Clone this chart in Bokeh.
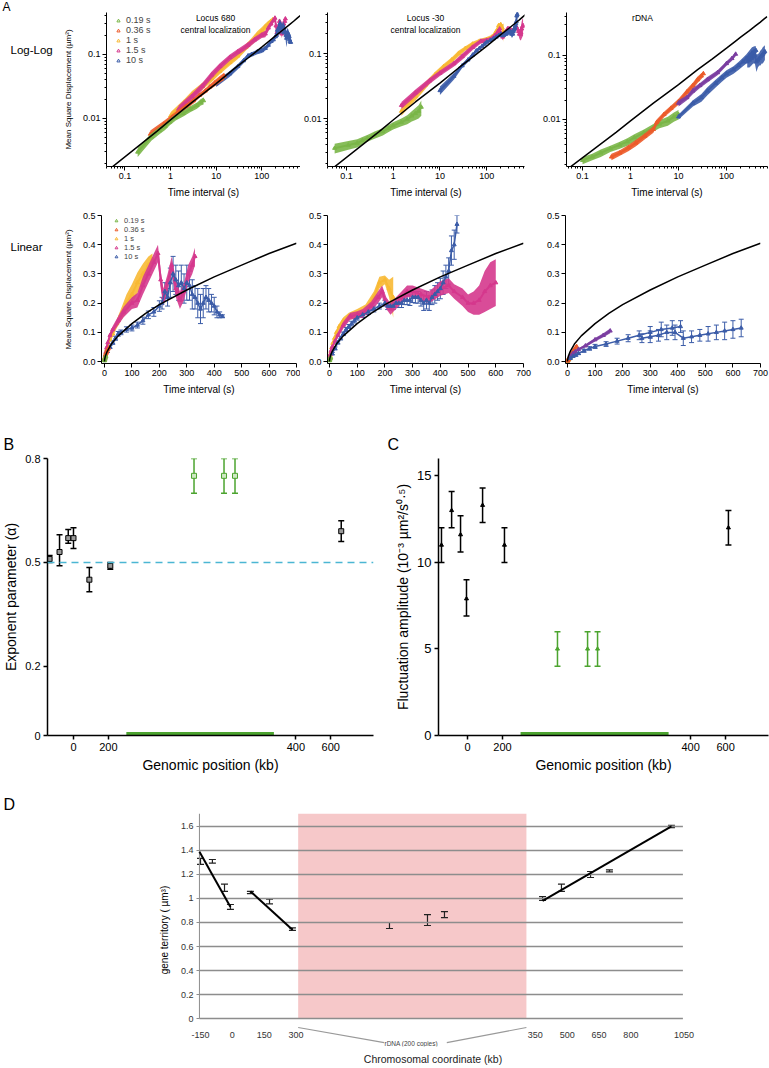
from bokeh.plotting import figure
from bokeh.layouts import row, column
from bokeh.models import (Range1d, Label, Legend, LegendItem, Whisker, TeeHead, ColumnDataSource,
                          FixedTicker, SingleIntervalTicker, NumeralTickFormatter, Span,
                          BoxAnnotation, LogTicker, Title)
from bokeh.core.properties import value
from bokeh.embed import file_html
from bokeh.resources import INLINE

FONT = "Liberation Sans"

# ---------------- colours ----------------
C019 = "#7ab648"
C036 = "#ec5b2a"
C1 = "#f8b934"
C15 = "#d5388d"
C10 = "#3b5ca8"
CPUR = "#7b3ea1"
GREEN = "#4ca42f"
CYAN = "#4bb6d3"
PINK = "#f6c8c9"
GRID = "#8d8d8d"

legend_labels = ["0.19 s", "0.36 s", "1 s", "1.5 s", "10 s"]
legend_colors = [C019, C036, C1, C15, C10]

# ---------------- Panel A data ----------------
fit_t = [0, 0.05, 0.5, 1, 3, 10, 25, 50, 100, 150, 200, 300, 400, 500, 600, 700]
fit_msd = [0, 0.0017, 0.0063, 0.0095, 0.018, 0.035, 0.06, 0.088, 0.13, 0.165, 0.195, 0.245, 0.29, 0.33, 0.37, 0.405]

# Locus 680
g680_t = [0.19, 0.38, 0.57, 0.76, 0.95, 1.3, 1.9, 2.7, 3.8, 4.6, 5.3]
g680_m = [0.003, 0.0052, 0.0065, 0.0075, 0.0088, 0.0105, 0.012, 0.014, 0.016, 0.018, 0.019]
g680_e = [0.0005, 0.0007, 0.0008, 0.0009, 0.001, 0.0012, 0.0013, 0.0015, 0.0018, 0.002, 0.0025]
o680_t = [0.36, 0.72, 1.1, 1.4, 2.2, 3.2, 4.3, 5.8, 7.2, 9.4, 12, 15]
o680_m = [0.0057, 0.0082, 0.0105, 0.012, 0.0155, 0.019, 0.023, 0.027, 0.031, 0.036, 0.041, 0.046]
o680_e = [0.0008, 0.001, 0.0012, 0.0013, 0.0015, 0.0018, 0.002, 0.0025, 0.003, 0.004, 0.005, 0.006]
y680_t = [1, 2, 3, 5, 8, 12, 20, 30, 45, 60, 80, 100, 120, 140, 160, 175]
y680_m = [0.011, 0.018, 0.024, 0.032, 0.042, 0.055, 0.075, 0.095, 0.13, 0.16, 0.2, 0.23, 0.27, 0.3, 0.33, 0.35]
y680_e = [0.0015, 0.002, 0.003, 0.004, 0.005, 0.006, 0.008, 0.01, 0.015, 0.02, 0.03, 0.035, 0.035, 0.035, 0.03, 0.02]
m680_t = [1.5, 3, 5, 8, 12, 20, 30, 50, 70, 100, 120, 140, 160, 180, 195, 205, 215, 230, 245, 260, 275, 290, 305, 320, 330]
m680_m = [0.014, 0.022, 0.032, 0.048, 0.065, 0.09, 0.11, 0.14, 0.17, 0.2, 0.21, 0.26, 0.3, 0.34, 0.37, 0.28, 0.22, 0.27,
          0.33, 0.25, 0.21, 0.24, 0.3, 0.33, 0.36]
m680_e = [0.002, 0.003, 0.004, 0.006, 0.008, 0.01, 0.012, 0.015, 0.018, 0.02, 0.025, 0.03, 0.03, 0.03, 0.03, 0.03,
          0.03, 0.03, 0.03, 0.03, 0.03, 0.03, 0.03, 0.03, 0.03]
b680_t = [10, 20, 30, 40, 50, 60, 80, 100, 120, 140, 160, 180, 200, 210, 220, 230, 240, 250, 260, 270, 280, 290,
          300, 310, 320, 330, 340, 350, 360, 370, 380, 390, 400, 410, 420, 430]
b680_m = [0.035, 0.05, 0.065, 0.08, 0.095, 0.1, 0.11, 0.115, 0.125, 0.14, 0.16, 0.17, 0.19, 0.2, 0.24, 0.22, 0.27,
          0.3, 0.28, 0.26, 0.27, 0.25, 0.27, 0.26, 0.23, 0.22, 0.2, 0.18, 0.2, 0.22, 0.21, 0.2, 0.19, 0.17, 0.16, 0.155]
b680_e = [0.004, 0.005, 0.006, 0.007, 0.008, 0.008, 0.009, 0.01, 0.01, 0.012, 0.013, 0.015, 0.018, 0.02, 0.03,
          0.03, 0.05, 0.06, 0.05, 0.05, 0.06, 0.05, 0.06, 0.05, 0.05, 0.04, 0.05, 0.05, 0.05, 0.04, 0.04, 0.03,
          0.03, 0.02, 0.01, 0.005]

# Locus -30
g30_t = [0.056, 0.11, 0.17, 0.22, 0.28, 0.4, 0.6, 0.8, 1, 1.5, 2, 2.5, 3, 3.5, 4]
g30_m = [0.0035, 0.0039, 0.0042, 0.0046, 0.005, 0.0056, 0.0063, 0.0071, 0.0078, 0.0088, 0.0097, 0.011, 0.012,
         0.013, 0.015]
g30_e = [0.0006, 0.0006, 0.0006, 0.0006, 0.0006, 0.0007, 0.0008, 0.0009, 0.001, 0.0012, 0.0015, 0.002, 0.0025,
         0.003, 0.004]
y30_t = [1.5, 3, 5, 8, 12, 18, 25, 35, 50, 70, 100, 130, 160, 180, 200, 215, 230]
y30_m = [0.013, 0.022, 0.033, 0.048, 0.063, 0.08, 0.1, 0.12, 0.14, 0.155, 0.165, 0.18, 0.22, 0.27, 0.28, 0.25, 0.22]
y30_e = [0.002, 0.003, 0.004, 0.005, 0.006, 0.008, 0.01, 0.01, 0.012, 0.012, 0.015, 0.015, 0.02, 0.02, 0.015,
         0.03, 0.07]
m30_t = [1.5, 3, 6, 10, 20, 30, 50, 75, 100, 120, 150, 175, 190, 205, 220, 240, 260, 280, 300, 330, 360, 400,
         430, 450, 480, 500, 520, 540, 560, 580, 600]
m30_m = [0.016, 0.025, 0.038, 0.05, 0.07, 0.09, 0.125, 0.155, 0.16, 0.165, 0.19, 0.22, 0.24, 0.2, 0.18, 0.2, 0.22,
         0.24, 0.24, 0.23, 0.22, 0.25, 0.26, 0.24, 0.22, 0.2, 0.2, 0.21, 0.24, 0.26, 0.27]
m30_e = [0.002, 0.003, 0.004, 0.005, 0.007, 0.01, 0.012, 0.012, 0.012, 0.015, 0.015, 0.02, 0.02, 0.02, 0.02,
         0.02, 0.02, 0.02, 0.02, 0.02, 0.02, 0.025, 0.025, 0.025, 0.03, 0.03, 0.04, 0.05, 0.07, 0.08, 0.08]
b30_t = [10, 20, 30, 40, 50, 60, 70, 80, 90, 100, 120, 140, 160, 180, 200, 210, 220, 230, 240, 250, 260, 270,
         280, 290, 300, 310, 320, 330, 340, 350, 360, 370, 380, 390, 400, 410, 420, 430, 440, 450, 460]
b30_m = [0.027, 0.045, 0.065, 0.08, 0.095, 0.11, 0.12, 0.13, 0.14, 0.15, 0.16, 0.17, 0.18, 0.19, 0.2, 0.19, 0.19,
         0.19, 0.2, 0.2, 0.2, 0.21, 0.21, 0.21, 0.22, 0.22, 0.22, 0.21, 0.2, 0.21, 0.2, 0.22, 0.23, 0.24, 0.25,
         0.27, 0.29, 0.31, 0.38, 0.4, 0.47]
b30_e = [0.004, 0.005, 0.005, 0.006, 0.006, 0.007, 0.007, 0.008, 0.008, 0.008, 0.009, 0.009, 0.01, 0.01, 0.01,
         0.012, 0.012, 0.012, 0.015, 0.015, 0.015, 0.015, 0.015, 0.018, 0.018, 0.02, 0.02, 0.02, 0.025, 0.03,
         0.025, 0.025, 0.03, 0.03, 0.035, 0.04, 0.04, 0.045, 0.05, 0.05, 0.03]

# rDNA
gr_t = [0.1, 0.16, 0.24, 0.38, 0.6, 0.86, 1.2, 1.9, 3, 4, 6, 8, 10]
gr_m = [0.0023, 0.0026, 0.003, 0.0035, 0.004, 0.0045, 0.0052, 0.0062, 0.0075, 0.0085, 0.0095, 0.011, 0.012]
gr_e = [0.0003, 0.0003, 0.0004, 0.0004, 0.0005, 0.0006, 0.0007, 0.0008, 0.001, 0.0012, 0.0015, 0.0018, 0.002]
or_t = [0.4, 0.6, 0.9, 1.3, 2, 3, 3.5, 5, 7, 10, 15, 20, 25, 30, 33]
or_m = [0.0026, 0.003, 0.0036, 0.0043, 0.0055, 0.007, 0.009, 0.012, 0.015, 0.019, 0.027, 0.034, 0.042, 0.048, 0.052]
or_e = [0.0003, 0.0003, 0.0004, 0.0005, 0.0006, 0.0008, 0.001, 0.0012, 0.0015, 0.002, 0.003, 0.004, 0.005, 0.005,
        0.005]
pr_t = [10, 15, 20, 28, 40, 65, 100, 130, 155]
pr_m = [0.018, 0.022, 0.028, 0.034, 0.042, 0.054, 0.075, 0.09, 0.105]
pr_e = [0.002, 0.002, 0.003, 0.003, 0.004, 0.005, 0.006, 0.007, 0.008]
br_t = [10, 20, 30, 40, 60, 80, 100, 140, 180, 220, 260, 300, 340, 380, 410]
br_m = [0.011, 0.018, 0.022, 0.028, 0.037, 0.045, 0.052, 0.06, 0.07, 0.08, 0.09, 0.1, 0.11, 0.115, 0.12]
br_e = [0.001, 0.002, 0.003, 0.004, 0.005, 0.006, 0.007, 0.008, 0.01, 0.012, 0.015, 0.02, 0.025, 0.025, 0.02]
br2_t = [270, 300, 330, 360, 390, 420, 450, 480, 510, 540, 570, 600, 630]
br2_m = [0.08, 0.085, 0.09, 0.1, 0.1, 0.08, 0.085, 0.09, 0.095, 0.1, 0.105, 0.11, 0.115]
br2_e = [0.015, 0.02, 0.02, 0.025, 0.025, 0.025, 0.02, 0.02, 0.025, 0.025, 0.03, 0.03, 0.03]

# ---------------- Panel B / C data ----------------
RIGHT_OFFSET_BC = 875          # axis break: right arm shifted past the rDNA bar
rdna_bar_BC = [303, 1149]      # rDNA span on the broken axis
BC_xticks = [0, 200, 400, 600]

B_x = [-137, -80, -30, 0, 91, 211, 660]
B_alpha = [0.51, 0.53, 0.57, 0.57, 0.45, 0.49, 0.59]
B_lo = [0.50, 0.49, 0.555, 0.54, 0.415, 0.48, 0.56]
B_hi = [0.52, 0.58, 0.595, 0.60, 0.485, 0.50, 0.62]
B_gx = [691, 863, 926]
B_galpha = [0.75, 0.75, 0.75]
B_glo = [0.70, 0.70, 0.70]
B_ghi = [0.80, 0.80, 0.80]
B_yticks = [0, 0.2, 0.5, 0.8]

C_x = [-149, -91, -40, -6, 86, 211, 616]
C_amp = [11, 13, 11.6, 7.9, 13.3, 11, 12]
C_lo = [10, 12, 10.6, 6.9, 12.3, 10, 11]
C_hi = [12, 14.1, 12.7, 9, 14.3, 12, 13]
C_gx = [514, 686, 743]
C_gamp = [5, 5, 5]
C_glo = [4, 4, 4]
C_ghi = [6, 6, 6]
C_yticks = [0, 5, 10, 15]

# ---------------- Panel D data ----------------
RIGHT_OFFSET_D = 1077
D_axis_x = -155                # where the value axis stands
D_grid_end = 2122              # right end of the grid lines
D_rdna = [310, 1385]
D_xticks = [-150, 0, 150, 300, 350, 500, 650, 800, 1050]
D_yticks = [0, 0.2, 0.4, 0.6, 0.8, 1, 1.2, 1.4, 1.6]
D_lx = [-150, -94, -37, -9, 85, 175, 283]
D_ly = [1.31, 1.31, 1.09, 0.93, 1.05, 0.975, 0.745]
D_le = [0.025, 0.015, 0.03, 0.02, 0.01, 0.02, 0.01]
D_px = [740, 919, 999]
D_py = [0.775, 0.82, 0.865]
D_pe = [0.025, 0.045, 0.025]
D_rx = [384, 473, 610, 699, 991]
D_ry = [1.0, 1.09, 1.2, 1.23, 1.6]
D_re = [0.015, 0.03, 0.025, 0.008, 0.01]
D_trend1_x = [-155, -9]
D_trend1_y = [1.39, 0.93]
D_trend2_x = [85, 283]
D_trend2_y = [1.06, 0.74]
D_trend3_x = [384, 991]
D_trend3_y = [0.98, 1.6]


# ---------------- helpers ----------------
def base_fig(w, h, bl, br, bt, bb, xr, yr, xt="linear", yt="linear", **kw):
    p = figure(width=w, height=h, x_range=Range1d(*xr), y_range=Range1d(*yr),
               x_axis_type=xt, y_axis_type=yt, output_backend="svg",
               toolbar_location=None, min_border_left=bl, min_border_right=br,
               min_border_top=bt, min_border_bottom=bb, **kw)
    p.outline_line_color = None
    p.grid.visible = False
    return p


def text_fig(w, h):
    p = figure(width=w, height=h, x_range=Range1d(0, w), y_range=Range1d(0, h), title=None,
               x_axis_location=None, y_axis_location=None, output_backend="svg",
               toolbar_location=None, min_border=0)
    p.outline_line_color = None
    p.grid.visible = False
    return p


def style_axis(ax, tick_size, lab_size, font=FONT, lw=1, tick_out=4, standoff=2, label_standoff=4,
               color="black"):
    ax.axis_line_color = color
    ax.axis_line_width = lw
    ax.major_tick_line_color = color
    ax.major_tick_line_width = lw
    ax.major_tick_out = tick_out
    ax.major_tick_in = 0
    ax.minor_tick_line_color = color
    ax.minor_tick_out = 2
    ax.minor_tick_in = 0
    ax.major_label_text_font = font
    ax.major_label_text_font_size = tick_size
    ax.major_label_text_color = "black"
    ax.major_label_standoff = standoff
    ax.axis_label_text_font = font
    ax.axis_label_text_font_size = lab_size
    ax.axis_label_text_font_style = "normal"
    ax.axis_label_text_color = "black"
    ax.axis_label_standoff = label_standoff


def label(p, text, x, y, size, align="left", baseline="middle", font=FONT, angle=0, color="black"):
    p.add_layout(Label(x=x, y=y, x_units="screen", y_units="screen", text=text, text_font=font,
                       text_font_size=size, text_align=align, text_baseline=baseline, angle=angle,
                       text_color=color))


def title(p, text, side, size, offset, standoff, align="left", font=FONT, color="black"):
    p.add_layout(Title(text=text, align=align, offset=offset, standoff=standoff, text_font=font,
                       text_font_size=size, text_font_style="normal", text_color=color), side)


def series(p, t, m, e, color, log=False, whisk=False, band_alpha=0.9, msize=4):
    pts = [(a, b, c) for a, b, c in zip(t, m, e) if (a > 0 or not log)]
    tt = [q[0] for q in pts]
    mm = [q[1] for q in pts]
    lo = [max(q[1] - q[2], 1e-4) if log else q[1] - q[2] for q in pts]
    hi = [q[1] + q[2] for q in pts]
    src = ColumnDataSource(dict(t=tt, m=mm, lo=lo, hi=hi))
    if whisk:
        p.add_layout(Whisker(source=src, base="t", lower="lo", upper="hi", line_color=color, line_width=1,
                             lower_head=TeeHead(size=5, line_color=color, line_width=1),
                             upper_head=TeeHead(size=5, line_color=color, line_width=1)))
        p.line("t", "m", source=src, line_color=color, line_width=1.5)
    else:
        p.varea("t", "lo", "hi", source=src, fill_color=color, fill_alpha=band_alpha)
        p.line("t", "m", source=src, line_color=color, line_width=2)
    p.scatter("t", "m", source=src, marker="triangle", size=msize, fill_color=color, line_color=color)


def add_legend(p, vx, vy, gh, fs):
    items = []
    for lab, col in zip(legend_labels, legend_colors):
        r = p.scatter(x=[float("nan")], y=[float("nan")], marker="triangle", size=6, fill_color=None,
                      line_color=col, line_width=1)
        items.append(LegendItem(label=lab, renderers=[r]))
    leg = Legend(items=items, location=(vx, vy), border_line_color=None, background_fill_alpha=0,
                 padding=0, margin=0, spacing=0, glyph_height=gh, glyph_width=8, label_height=gh,
                 label_text_font=FONT, label_text_font_size=fs, label_standoff=4)
    p.add_layout(leg)


def fit_line(p, log):
    tt = [a for a in fit_t if (a > 0 or not log)]
    mm = [b for a, b in zip(fit_t, fit_msd) if (a > 0 or not log)]
    p.line(tt, mm, line_color="black", line_width=1.5)


# ---------------- strip with the panel letter A ----------------
strip = text_fig(769, 12)
label(strip, "A", 2, 6, "12px")


# ---------------- Row 1 : log-log ----------------
def log_fig(w, bl, br, xr, yr):
    p = base_fig(w, 188, bl, br, 0, 34, xr, yr, "log", "log", title=None)
    for ax in (p.xaxis[0], p.yaxis[0]):
        style_axis(ax, "9px", "10px", label_standoff=5)
        ax.ticker = LogTicker(num_minor_ticks=10)
        ax.formatter = NumeralTickFormatter(format="0.[00]")
    p.xaxis.axis_label = "Time interval (s)"
    return p


t1 = text_fig(60, 188)
label(t1, "Log-Log", 10, 117, "11.5px")

a1 = log_fig(240, 40, 0, (0.0394, 708), (0.00178, 0.452))
a2 = log_fig(238, 26, 14, (0.0394, 644), (0.00183, 0.428))
a3 = log_fig(231, 28, 2, (0.0464, 714), (0.00184, 0.470))
a1.yaxis.axis_label = "Mean Square Displacement (µm²)"
a1.yaxis.axis_label_text_font_size = "8px"
a1.yaxis.axis_label_standoff = 7

series(a1, y680_t, y680_m, y680_e, C1, True)
series(a1, m680_t, m680_m, m680_e, C15, True)
series(a1, b680_t, b680_m, b680_e, C10, True)
series(a1, o680_t, o680_m, o680_e, C036, True)
series(a1, g680_t, g680_m, g680_e, C019, True)
fit_line(a1, True)
series(a2, y30_t, y30_m, y30_e, C1, True)
series(a2, m30_t, m30_m, m30_e, C15, True)
series(a2, b30_t, b30_m, b30_e, C10, True)
series(a2, g30_t, g30_m, g30_e, C019, True)
fit_line(a2, True)
series(a3, gr_t, gr_m, gr_e, C019, True)
series(a3, or_t, or_m, or_e, C036, True)
series(a3, pr_t, pr_m, pr_e, CPUR, True)
series(a3, br_t, br_m, br_e, C10, True)
series(a3, br2_t, br2_m, br2_e, C10, True)
fit_line(a3, True)

add_legend(a1, 8, 101, 9, "9px")
label(a1, "Locus 680", 109, 149, "8.5px", align="center")
label(a1, "central localization", 109, 137, "8.5px", align="center")
label(a2, "Locus -30", 98, 149, "8.5px", align="center")
label(a2, "central localization", 98, 137, "8.5px", align="center")
label(a3, "rDNA", 76, 149, "8.5px", align="center")


# ---------------- Row 2 : linear ----------------
def lin_fig(w, bl, br, bt, bb, xr, yr):
    p = base_fig(w, 200, bl, br, bt, bb, xr, yr)
    for ax in (p.xaxis[0], p.yaxis[0]):
        style_axis(ax, "9px", "10px", label_standoff=5)
        ax.minor_tick_line_color = None
    p.xaxis.ticker = SingleIntervalTicker(interval=100)
    p.yaxis.ticker = SingleIntervalTicker(interval=0.1)
    p.yaxis.formatter = NumeralTickFormatter(format="0.0")
    p.xaxis.axis_label = "Time interval (s)"
    return p


t2 = text_fig(60, 200)
label(t2, "Linear", 10, 117, "11.5px")

l1 = lin_fig(240, 40, 4, 15, 32, (-10.9, 700), (-0.0066, 0.5))
l2 = lin_fig(238, 27, 15, 15, 32, (-7.1, 700), (-0.0066, 0.5))
l3 = lin_fig(231, 27, 9, 8, 37, (-7.2, 700), (-0.0065, 0.5))
l1.yaxis.axis_label = "Mean Square Displacement (µm²)"
l1.yaxis.axis_label_text_font_size = "8px"
l1.yaxis.axis_label_standoff = 7

series(l1, y680_t, y680_m, y680_e, C1)
series(l1, m680_t, m680_m, m680_e, C15)
series(l1, b680_t, b680_m, b680_e, C10, whisk=True)
series(l1, o680_t, o680_m, o680_e, C036)
series(l1, g680_t, g680_m, g680_e, C019)
fit_line(l1, False)
series(l2, y30_t, y30_m, y30_e, C1)
series(l2, m30_t, m30_m, m30_e, C15)
series(l2, b30_t, b30_m, b30_e, C10, whisk=True)
series(l2, g30_t, g30_m, g30_e, C019)
fit_line(l2, False)
series(l3, gr_t, gr_m, gr_e, C019)
series(l3, or_t, or_m, or_e, C036)
series(l3, pr_t, pr_m, pr_e, CPUR)
series(l3, br_t, br_m, br_e, C10, whisk=True)
series(l3, br2_t, br2_m, br2_e, C10, whisk=True)
fit_line(l3, False)

add_legend(l1, 11, 102, 7, "7.5px")


# ---------------- Row 3 : B and C ----------------
def to_axis_bc(v):
    return v if v < 300 else v + RIGHT_OFFSET_BC


def bc_fig(w, bl, br, bt, bb, xr, yr, yticks):
    p = base_fig(w, 380, bl, br, bt, bb, xr, yr)
    for ax in (p.xaxis[0], p.yaxis[0]):
        style_axis(ax, "11px", "14px", lw=1.5, tick_out=4, standoff=3, label_standoff=3)
        ax.minor_tick_line_color = None
    p.yaxis.ticker = FixedTicker(ticks=yticks)
    p.yaxis.formatter = NumeralTickFormatter(format="0.[0]")
    pos = [to_axis_bc(v) for v in BC_xticks]
    p.xaxis.ticker = FixedTicker(ticks=pos)
    p.xaxis.major_label_overrides = {q: str(v) for q, v in zip(pos, BC_xticks)}
    p.xaxis.axis_label = "Genomic position (kb)"
    p.line(x=rdna_bar_BC, y=[0, 0], line_color=GREEN, line_width=7)
    return p


pB = bc_fig(383, 46, 10, 58, 43, (-149, 1720), (0, 0.8), B_yticks)
pC = bc_fig(386, 55, 1, 57, 45, (-166, 1720), (0, 16), C_yticks)
pB.yaxis.axis_label = "Exponent parameter (α)"
pC.yaxis.axis_label = "Fluctuation amplitude (10⁻³ µm²/s⁰·⁵)"
pC.yaxis.major_label_text_font_size = "13px"

pB.add_layout(Span(location=0.5, dimension="width", line_color=CYAN, line_dash="7 5", line_width=1.5))


def err_points(p, xs, ys, lo, hi, color, marker, size, fill):
    src = ColumnDataSource(dict(x=xs, y=ys, lo=lo, hi=hi))
    p.add_layout(Whisker(source=src, base="x", lower="lo", upper="hi", line_color=color, line_width=1.5,
                         lower_head=TeeHead(size=6, line_color=color, line_width=1.5),
                         upper_head=TeeHead(size=6, line_color=color, line_width=1.5)))
    p.scatter("x", "y", source=src, marker=marker, size=size, fill_color=fill, line_color=color, line_width=1)


err_points(pB, [to_axis_bc(v) for v in B_x], B_alpha, B_lo, B_hi, "black", "square", 5, "#999999")
err_points(pB, B_gx, B_galpha, B_glo, B_ghi, GREEN, "square", 5, "#cfe8c4")
err_points(pC, [to_axis_bc(v) for v in C_x], C_amp, C_lo, C_hi, "black", "triangle", 4, "black")
err_points(pC, C_gx, C_gamp, C_glo, C_ghi, GREEN, "triangle", 4, GREEN)

title(pB, "B", "above", "16px", -44, 12)
title(pC, "C", "above", "16px", -51, 11)


# ---------------- Row 4 : D ----------------
def to_axis_d(v):
    return v if v < 330 else v + RIGHT_OFFSET_D


pD = base_fig(769, 288, 155, 59, 33, 22, (-362, 2252), (-0.233, 1.708), x_axis_location=None)
pD.add_layout(BoxAnnotation(left=D_rdna[0], right=D_rdna[1], bottom=0, fill_color=PINK, fill_alpha=1,
                            line_color=None, level="underlay"))
n = len(D_yticks)
pD.segment(x0=[D_axis_x] * n, y0=D_yticks, x1=[D_grid_end] * n, y1=D_yticks, line_color=GRID,
           line_width=1.6)
style_axis(pD.yaxis[0], "9px", "10px", lw=1, tick_out=3, standoff=3, label_standoff=8, color=GRID)
pD.yaxis.fixed_location = D_axis_x
pD.yaxis.axis_line_color = None
pD.yaxis.major_label_text_color = "#333333"
pD.yaxis.ticker = FixedTicker(ticks=D_yticks)
pD.yaxis.formatter = NumeralTickFormatter(format="0.[0]")
pD.yaxis.minor_tick_line_color = None
pD.yaxis.axis_label = "gene territory ( µm³)"
pD.segment(x0=[D_axis_x], y0=[0], x1=[D_axis_x], y1=[pD.y_range.end], line_color=GRID, line_width=1)

dpos = [to_axis_d(v) for v in D_xticks]
pD.text(x=dpos, y=[-0.135] * len(dpos), text=[str(v) for v in D_xticks], text_align="center",
        text_baseline="middle", text_font=value(FONT), text_font_size=value("9px"), text_color="#333333")

pD.line([D_rdna[0], D_rdna[0] + 405], [-0.075, -0.2], line_color="#999999", line_width=1.2)
pD.line([D_rdna[1] - 375, D_rdna[1]], [-0.2, -0.075], line_color="#999999", line_width=1.2)
pD.text(x=[(D_rdna[0] + D_rdna[1]) / 2 - 5], y=[-0.205], text=["rDNA (200 copies)"], text_align="center",
        text_baseline="middle", text_font=value(FONT), text_font_size=value("6.5px"), text_color="#444444")

for xs, ys in ((D_trend1_x, D_trend1_y), (D_trend2_x, D_trend2_y),
               ([to_axis_d(v) for v in D_trend3_x], D_trend3_y)):
    pD.line(xs, ys, line_color="black", line_width=2)


def d_err(xs, ys, es):
    src = ColumnDataSource(dict(x=xs, lo=[a - b for a, b in zip(ys, es)], hi=[a + b for a, b in zip(ys, es)]))
    pD.add_layout(Whisker(source=src, base="x", lower="lo", upper="hi", line_color="#222222", line_width=1.2,
                          lower_head=TeeHead(size=7, line_color="#222222", line_width=1.2),
                          upper_head=TeeHead(size=7, line_color="#222222", line_width=1.2)))


d_err(D_lx, D_ly, D_le)
d_err(D_px, D_py, D_pe)
d_err([to_axis_d(v) for v in D_rx], D_ry, D_re)

title(pD, "D", "above", "16px", -152, 2)
title(pD, "Chromosomal coordinate (kb)", "below", "10.5px", -24, 8, align="center", color="#222222")

layout = column(row(strip), row(t1, a1, a2, a3), row(t2, l1, l2, l3), row(pB, pC), pD)
open("out.html", "w").write(file_html(layout, INLINE))
